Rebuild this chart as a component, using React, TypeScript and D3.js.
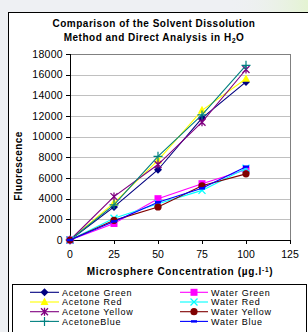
import React from "react";
import * as d3 from "d3";

const xValues = [0, 25, 50, 75, 100];
const xTicks = [0, 25, 50, 75, 100, 125];
const yTicks = [0, 2000, 4000, 6000, 8000, 10000, 12000, 14000, 16000, 18000];

const acetoneGreen = [0, 3200, 6800, 11800, 15300];
const acetoneRed = [0, 3600, 7700, 12550, 15600];
const acetoneYellow = [0, 4200, 7300, 11400, 16500];
const acetoneBlue = [0, 3400, 8100, 12100, 16900];
const waterGreen = [0, 1600, 4000, 5450, 6800];
const waterRed = [0, 2100, 3500, 4800, 6950];
const waterYellow = [0, 1900, 3200, 5250, 6400];
const waterBlue = [0, 1800, 3650, 5000, 7100];

const seriesNames = [
  "Acetone Green", "Acetone Red", "Acetone Yellow", "AcetoneBlue",
  "Water Green", "Water Red", "Water Yellow", "Water Blue",
];
const seriesValues = [
  acetoneGreen, acetoneRed, acetoneYellow, acetoneBlue,
  waterGreen, waterRed, waterYellow, waterBlue,
];
const seriesColors = [
  "#000080", "#FFFF00", "#800080", "#008080",
  "#FF00FF", "#00FFFF", "#800000", "#0000FF",
];
const seriesMarkers = [
  "diamond", "triangle", "star", "plus",
  "square", "cross", "circle", "dash",
];

const FONT = "'Liberation Sans', Arial, sans-serif";

function Marker({ type, x, y, color }: { type: string; x: number; y: number; color: string }) {
  switch (type) {
    case "diamond":
      return <path d={`M${x},${y - 4}L${x + 4},${y}L${x},${y + 4}L${x - 4},${y}Z`} fill={color} />;
    case "triangle":
      return <path d={`M${x},${y - 4.5}L${x + 4},${y + 3}L${x - 4},${y + 3}Z`} fill={color} />;
    case "square":
      return <rect x={x - 3.5} y={y - 3.5} width={7} height={7} fill={color} />;
    case "circle":
      return <circle cx={x} cy={y} r={3.6} fill={color} />;
    case "cross":
      return (
        <path d={`M${x - 3.5},${y - 3.5}L${x + 3.5},${y + 3.5}M${x - 3.5},${y + 3.5}L${x + 3.5},${y - 3.5}`}
          stroke={color} strokeWidth={1.3} fill="none" />
      );
    case "star":
      return (
        <path d={`M${x - 3.5},${y - 3.5}L${x + 3.5},${y + 3.5}M${x - 3.5},${y + 3.5}L${x + 3.5},${y - 3.5}M${x},${y - 4}L${x},${y + 4}`}
          stroke={color} strokeWidth={1.3} fill="none" />
      );
    case "plus":
      return (
        <path d={`M${x - 4.5},${y}L${x + 4.5},${y}M${x},${y - 4.5}L${x},${y + 4.5}`}
          stroke={color} strokeWidth={1.2} fill="none" />
      );
    case "dash":
      return <rect x={x - 3} y={y - 1.2} width={6} height={2.4} fill={color} />;
    default:
      return null;
  }
}

export default function App() {
  const W = 308, H = 332;
  const left = 70, right = 290, top = 54, bottom = 240;
  const x = d3.scaleLinear().domain([0, 125]).range([left, right]);
  const y = d3.scaleLinear().domain([0, 18000]).range([bottom, top]);
  const line = d3.line<number>().x((_, i) => x(xValues[i])).y((d) => y(d));

  const legendRows = [292.3, 302, 311.7, 321.4];

  return (
    <svg width={W} height={H} style={{ position: "absolute", left: 0, top: 0 }} fontFamily={FONT}>
      <defs>
        <linearGradient id="bgGreen" x1="0" x2="1" y1="0" y2="0">
          <stop offset="0" stopColor="#eef0f3" stopOpacity={0} />
          <stop offset="1" stopColor="#e4f3d2" stopOpacity={1} />
        </linearGradient>
      </defs>
      <rect x={0} y={0} width={W} height={H} fill="#eef0f3" />
      <rect x={230} y={0} width={78} height={12} fill="url(#bgGreen)" />
      <rect x={8.5} y={12.5} width={W} height={H} fill="#ffffff" stroke="#000" strokeWidth={1} />

      {/* title */}
      <text x={154} y={27} textAnchor="middle" fontSize={10} fontWeight="bold" letterSpacing={0.5}>
        Comparison of the Solvent Dissolution
      </text>
      <text x={154} y={41} textAnchor="middle" fontSize={10} fontWeight="bold" letterSpacing={0.5}>
        Method and Direct Analysis in H<tspan fontSize={7} dy={2}>2</tspan><tspan dy={-2}>O</tspan>
      </text>

      {/* gridlines */}
      {yTicks.filter((t) => t > 0).map((t) => (
        <line key={t} x1={left} x2={right} y1={Math.round(y(t)) + 0.5} y2={Math.round(y(t)) + 0.5}
          stroke="#c0c0c0" strokeWidth={1} />
      ))}
      <line x1={right + 0.5} x2={right + 0.5} y1={top} y2={bottom} stroke="#808080" strokeWidth={1} />
      <line x1={left} x2={right} y1={top + 0.5} y2={top + 0.5} stroke="#808080" strokeWidth={1} />

      {/* axes */}
      <line x1={left + 0.5} x2={left + 0.5} y1={top} y2={bottom + 0.5} stroke="#000" strokeWidth={1} />
      <line x1={left} x2={right + 1} y1={bottom + 0.5} y2={bottom + 0.5} stroke="#000" strokeWidth={1} />
      {yTicks.map((t) => (
        <g key={t}>
          <line x1={left - 4} x2={left} y1={Math.round(y(t)) + 0.5} y2={Math.round(y(t)) + 0.5} stroke="#000" />
          <text x={63} y={y(t) + 3.6} textAnchor="end" fontSize={10.5} letterSpacing={0.3}>{t}</text>
        </g>
      ))}
      {xTicks.map((t) => (
        <g key={t}>
          <line x1={Math.round(x(t)) + 0.5} x2={Math.round(x(t)) + 0.5} y1={bottom} y2={bottom + 4} stroke="#000" />
          <text x={x(t)} y={258} textAnchor="middle" fontSize={10.5}>{t}</text>
        </g>
      ))}

      {/* axis titles */}
      <text x={180} y={275} textAnchor="middle" fontSize={10} fontWeight="bold" letterSpacing={0.7}>
        Microsphere Concentration (µg.l<tspan fontSize={6.5} dy={-3.5}>-1</tspan><tspan dy={3.5}>)</tspan>
      </text>
      <text transform="translate(22,166) rotate(-90)" textAnchor="middle" fontSize={10} fontWeight="bold" letterSpacing={0.4}>
        Fluorescence
      </text>

      {/* series */}
      {seriesValues.map((vals, si) => (
        <g key={seriesNames[si]}>
          <path d={line(vals) || ""} fill="none" stroke={seriesColors[si]} strokeWidth={1.1} />
          {vals.map((v, i) => (
            <Marker key={i} type={seriesMarkers[si]} x={x(xValues[i])} y={y(v)} color={seriesColors[si]} />
          ))}
        </g>
      ))}

      {/* legend */}
      <rect x={12.5} y={284.5} width={294} height={60} fill="#fff" stroke="#000" strokeWidth={1} />
      {seriesNames.map((name, si) => {
        const col = si < 4 ? 0 : 1;
        const row = si % 4;
        const ly = legendRows[row];
        const x0 = col === 0 ? 30 : 180;
        const x1 = col === 0 ? 59 : 208;
        const tx = col === 0 ? 62 : 211;
        return (
          <g key={name}>
            <line x1={x0} x2={x1} y1={ly} y2={ly} stroke={seriesColors[si]} strokeWidth={1.1} />
            <Marker type={seriesMarkers[si]} x={(x0 + x1) / 2} y={ly} color={seriesColors[si]} />
            <text x={tx} y={ly + 3.3} fontSize={9} letterSpacing={0.75}>{name}</text>
          </g>
        );
      })}
    </svg>
  );
}
